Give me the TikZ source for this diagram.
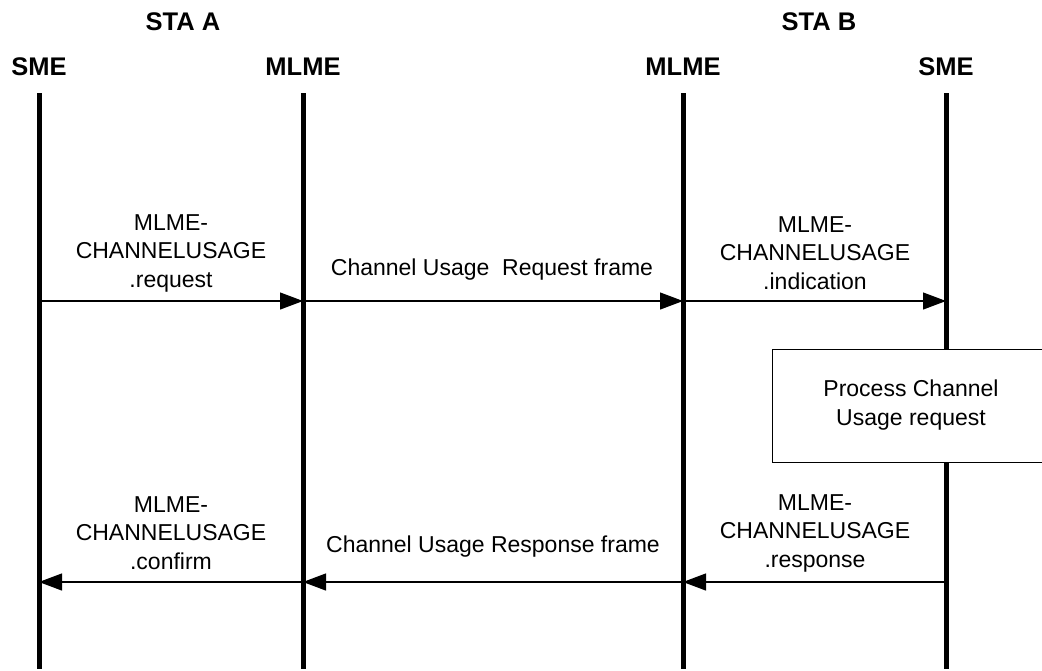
\documentclass[tikz,border=0pt]{standalone}
\usepackage{fontspec}
\setmainfont{Liberation Sans}
\usetikzlibrary{arrows.meta}
\begin{document}
\begin{tikzpicture}[x=1pt,y=-1pt,
  lifeline/.style={line width=5pt},
  msg/.style={line width=1.2pt,-{Triangle[length=23pt,width=17pt]}},
  hdr/.style={font=\fontsize{25.5}{30}\selectfont\bfseries, inner sep=0pt},
  lbl/.style={font=\fontsize{23}{28.5}\selectfont, align=center, inner sep=0pt},
  procbox/.style={draw, line width=0.8pt, fill=white}]
\useasboundingbox (0,0) rectangle (1042,670);
\clip (0,0) rectangle (1042,670);
% headers
\node[hdr] (staA) at (183,22) {STA A};
\node[hdr] (staB) at (819,22) {STA B};
\node[hdr] (sme1) at (39,67) {SME};
\node[hdr] (mlme1) at (303,67) {MLME};
\node[hdr] (mlme2) at (683,67) {MLME};
\node[hdr] (sme2) at (946,67) {SME};
% lifeline points
\foreach \n/\x in {l1/39,l2/303,l3/683,l4/946}{
  \coordinate (\n t) at (\x,93);
  \coordinate (\n b) at (\x,669);
  \coordinate (\n r) at (\x,301);
  \coordinate (\n s) at (\x,582);
}
\draw[lifeline] (l1t) -- (l1b);
\draw[lifeline] (l2t) -- (l2b);
\draw[lifeline] (l3t) -- (l3b);
\draw[lifeline] (l4t) -- (l4b);
% request messages
\draw[msg] (l1r) -- (l2r);
\draw[msg] (l2r) -- (l3r);
\draw[msg] (l3r) -- (l4r);
\node[lbl] (req) at (171,253) {MLME-\\CHANNELUSAGE\\.request};
\node[lbl] (reqf) at (492,270) {Channel Usage\ \ Request frame};
\node[lbl] (ind) at (815,253) {MLME-\\CHANNELUSAGE\\.indication};
% process box
\node[procbox, minimum width=280pt, minimum height=113pt, anchor=north west] (proc) at (772,349) {};
\node[lbl] (proct) at (911,405) {Process Channel\\Usage request};
% response messages
\draw[msg] (l4s) -- (l3s);
\draw[msg] (l3s) -- (l2s);
\draw[msg] (l2s) -- (l1s);
\node[lbl] (conf) at (171,533) {MLME-\\CHANNELUSAGE\\.confirm};
\node[lbl] (respf) at (493,547) {Channel Usage Response frame};
\node[lbl] (resp) at (815,533) {MLME-\\CHANNELUSAGE\\.response};
\end{tikzpicture}
\end{document}
